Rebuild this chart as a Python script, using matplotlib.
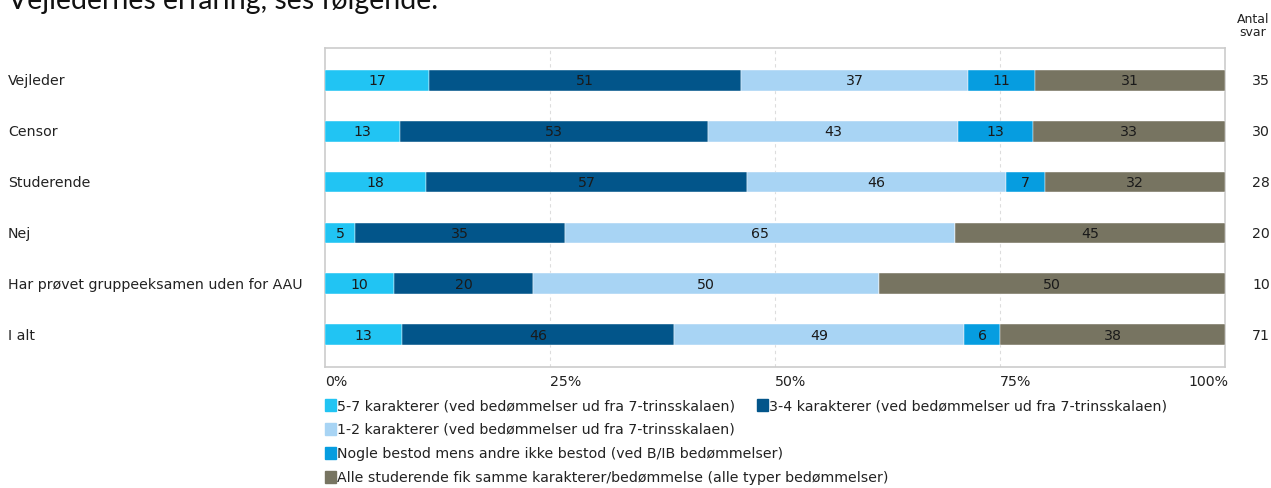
import numpy as np
import matplotlib.pyplot as plt
from matplotlib.patches import Rectangle

# === data ===
categories = ["Vejleder", "Censor", "Studerende", "Nej",
              "Har prøvet gruppeeksamen uden for AAU", "I alt"]
antal_svar = [35, 30, 28, 20, 10, 71]

series_names = [
    "5-7 karakterer (ved bedømmelser ud fra 7-trinsskalaen)",
    "3-4 karakterer (ved bedømmelser ud fra 7-trinsskalaen)",
    "1-2 karakterer (ved bedømmelser ud fra 7-trinsskalaen)",
    "Nogle bestod mens andre ikke bestod (ved B/IB bedømmelser)",
    "Alle studerende fik samme karakterer/bedømmelse (alle typer bedømmelser)",
]
s_57 = [17, 13, 18, 5, 10, 13]
s_34 = [51, 53, 57, 35, 20, 46]
s_12 = [37, 43, 46, 65, 50, 49]
s_nogle = [11, 13, 7, 0, 0, 6]
s_alle = [31, 33, 32, 45, 50, 38]
colors = ["#21c4f3", "#02558a", "#a8d4f4", "#069de0", "#777461"]

ticks = [0, 25, 50, 75, 100]
tick_labels = ["0%", "25%", "50%", "75%", "100%"]

FONT = "DejaVu Sans"
FS = 10.2
TXT = "#222222"

W, H = 1271, 489
fig = plt.figure(figsize=(W / 100, H / 100), dpi=100)
ax = fig.add_axes([325 / W, 1 - 368 / H, 900 / W, (368 - 49) / H])

series = np.array([s_57, s_34, s_12, s_nogle, s_alle], dtype=float)
totals = series.sum(axis=0)
pct = series / totals * 100
y = np.arange(len(categories))

# === stacked bars (normalised to 100%) ===
left = np.zeros(len(categories))
for i in range(len(series)):
    ax.barh(y, pct[i], left=left, height=0.41, color=colors[i],
            edgecolor="white", linewidth=0.3, zorder=3)
    for j in range(len(categories)):
        if series[i, j] > 0:
            ax.text(left[j] + pct[i, j] / 2, y[j], str(int(series[i, j])),
                    ha="center", va="center", fontsize=FS, family=FONT,
                    color="#1a1a1a", zorder=4)
    left += pct[i]

ax.set_xlim(0, 100)
ax.set_ylim(len(categories) - 0.37, -0.63)
for t in ticks[1:-1]:
    ax.axvline(t, color="#dddddd", linestyle=(0, (3, 3)), linewidth=0.8, zorder=1)
for sp in ax.spines.values():
    sp.set_color("#cccccc")
    sp.set_linewidth(1.2)
ax.set_xticks([])
ax.set_yticks([])

# === x labels under the frame ===
for t, lab in zip(ticks, tick_labels):
    ha = "right" if t == 100 else "left"
    xpx = 325 + t * 9 + (3 if t == 100 else 0)
    fig.text(xpx / W, 1 - 382 / H, lab, ha=ha, va="center",
             fontsize=FS, family=FONT, color=TXT)

# === category labels and counts ===
for j, c in enumerate(categories):
    ax.text(-317 / 9, y[j], c, ha="left", va="center", fontsize=FS,
            family=FONT, color=TXT, clip_on=False)
    ax.text(100 + 36 / 9, y[j], str(antal_svar[j]), ha="center", va="center",
            fontsize=FS, family=FONT, color=TXT, clip_on=False)

fig.text(1253 / W, 1 - 26 / H, "Antal\nsvar", ha="center", va="center",
         fontsize=FS - 1.2, family=FONT, color=TXT, linespacing=1.0)

# === legend ===
leg_rows = [(325, 406, 0), (757, 406, 1), (325, 430, 2), (325, 454, 3), (325, 478, 4)]
for x0, y0, k in leg_rows:
    fig.patches.append(Rectangle((x0 / W, 1 - (y0 + 6) / H), 11 / W, 12 / H,
                                 transform=fig.transFigure, color=colors[k],
                                 figure=fig))
    fig.text((x0 + 12) / W, 1 - y0 / H, series_names[k], ha="left", va="center",
             fontsize=FS, family=FONT, color=TXT)

# === header text (cut off at the top) ===
fig.text(8 / W, 1 - 9 / H, "Vejledernes erfaring, ses følgende.",
         ha="left", va="baseline", fontsize=20.5, family="Lato", color="#111111")

fig.savefig("out.png", dpi=100)
